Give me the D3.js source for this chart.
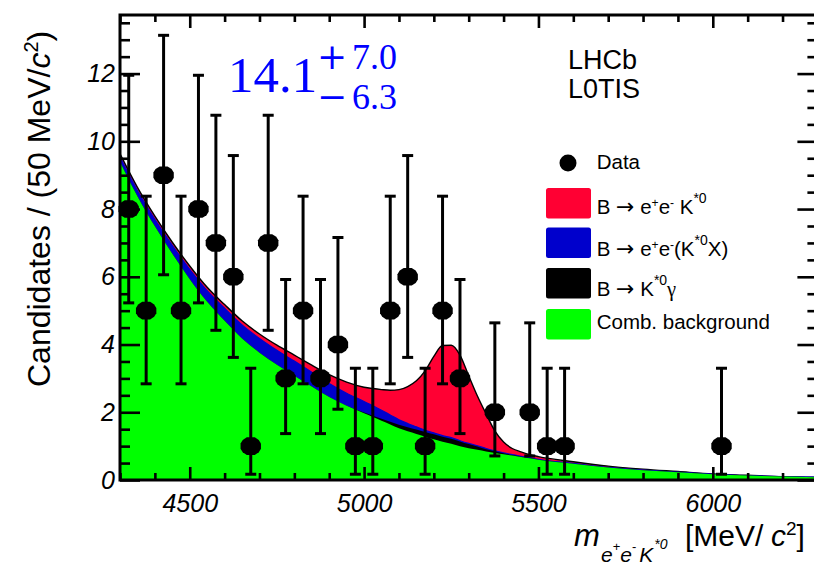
<!DOCTYPE html>
<html>
<head>
<meta charset="utf-8">
<script src="https://cdn.jsdelivr.net/npm/d3@7"></script>
<style>
  body { margin: 0; background: #fff; }
  svg { display: block; }
  text { font-family: "Liberation Sans", Arial, Helvetica, sans-serif; }
</style>
</head>
<body>
<svg id="chart" width="814" height="565"></svg>
<script>
// Fit components, evaluated on a mass grid [MeV/c^2]
const massGrid = [4300, 4350, 4400, 4450, 4500, 4550, 4600, 4650, 4700, 4750, 4800, 4850, 4900, 4950,
  5000, 5025, 5050, 5075, 5100, 5125, 5150, 5175, 5200, 5225, 5250, 5275, 5300, 5325, 5350, 5375,
  5400, 5425, 5450, 5475, 5500, 5600, 5700, 5800, 5900, 6000, 6100, 6200, 6300];

// Combinatorial background
const combBkg = [9.40, 8.38, 7.49, 6.68, 5.93, 5.26, 4.70, 4.18, 3.76, 3.40, 3.08, 2.76, 2.45, 2.19,
  1.97, 1.86, 1.75, 1.64, 1.53, 1.44, 1.36, 1.28, 1.20, 1.13, 1.07, 1.00, 0.94, 0.89, 0.84, 0.80,
  0.76, 0.72, 0.68, 0.64, 0.60, 0.48, 0.37, 0.29, 0.23, 0.17, 0.13, 0.10, 0.08];

// B -> K*0 gamma
const kstGamma = [0, 0, 0, 0, 0, 0, 0, 0, 0, 0, 0, 0, 0, 0,
  0.02, 0.04, 0.06, 0.08, 0.10, 0.12, 0.13, 0.14, 0.15, 0.15, 0.15, 0.14, 0.12, 0.10, 0.07, 0.05,
  0.03, 0.02, 0.01, 0.01, 0, 0, 0, 0, 0, 0, 0, 0, 0];

// B -> e+e-(K*0 X), partially reconstructed
const partReco = [0.14, 0.17, 0.21, 0.25, 0.29, 0.33, 0.37, 0.40, 0.42, 0.43, 0.43, 0.42, 0.40, 0.37,
  0.33, 0.29, 0.25, 0.20, 0.15, 0.11, 0.08, 0.05, 0.04, 0.03, 0.03, 0.02, 0.02, 0.02, 0.02, 0.01,
  0.01, 0.01, 0.01, 0.01, 0.01, 0.01, 0, 0, 0, 0, 0, 0, 0];

// B -> e+e- K*0 signal
const signal = [0.09, 0.09, 0.09, 0.09, 0.10, 0.10, 0.11, 0.12, 0.13, 0.15, 0.18, 0.21, 0.26, 0.33,
  0.42, 0.51, 0.61, 0.73, 0.89, 1.09, 1.36, 1.75, 2.26, 2.66, 2.73, 2.53, 2.00, 1.47, 1.02, 0.59,
  0.32, 0.18, 0.13, 0.09, 0.08, 0.05, 0.04, 0.03, 0.02, 0.01, 0.01, 0, 0];

// Data: bin centres (50 MeV bins), candidates, asymmetric errors
const binCentres = [4325, 4375, 4425, 4475, 4525, 4575, 4625, 4675, 4725, 4775, 4825, 4875, 4925,
  4975, 5025, 5075, 5125, 5175, 5225, 5275, 5375, 5475, 5525, 5575, 6025];
const counts = [8, 5, 9, 5, 8, 7, 6, 1, 7, 3, 5, 3, 4, 1, 1, 5, 6, 1, 5, 3, 2, 2, 1, 1, 1];
const errLow = [2.77, 2.16, 2.94, 2.16, 2.77, 2.58, 2.38, 0.83, 2.58, 1.63, 2.16, 1.63, 1.91,
  0.83, 0.83, 2.16, 2.38, 0.83, 2.16, 1.63, 1.29, 1.29, 0.83, 0.83, 0.83];
const errHigh = [3.95, 3.38, 4.13, 3.38, 3.95, 3.77, 3.58, 2.30, 3.77, 2.92, 3.38, 2.92, 3.16,
  2.30, 2.30, 3.38, 3.58, 2.30, 3.38, 2.92, 2.64, 2.64, 2.30, 2.30, 2.30];

const xTickValues = [4500, 5000, 5500, 6000];
const yTickValues = [0, 2, 4, 6, 8, 10, 12];

const fillColours = { sig: "#ff0033", part: "#0000cc", kst: "#000000", comb: "#00ff00" };
const SERIF = '"Liberation Serif", "Times New Roman", serif';
const SYMBOL = '"DejaVu Serif", "DejaVu Sans", serif';

const svg = d3.select("#chart");
const x = d3.scaleLinear().domain([4300, 6300]).range([120, 817.4]);
const y = d3.scaleLinear().domain([0, 13.73]).range([480, 15]);

svg.append("defs").append("clipPath").attr("id", "plotArea")
  .append("rect").attr("x", x.range()[0]).attr("y", y.range()[1])
  .attr("width", x.range()[1] - x.range()[0]).attr("height", y.range()[0] - y.range()[1]);

// Stacked fit components
const rows = massGrid.map((m, i) => ({ m, comb: combBkg[i], kst: kstGamma[i], part: partReco[i], sig: signal[i] }));
const stacked = d3.stack().keys(["comb", "kst", "part", "sig"])(rows);
const byKey = {};
stacked.forEach(s => { byKey[s.key] = s; });

const area = d3.area()
  .x(d => x(d.data.m)).y0(y(0)).y1(d => y(d[1]))
  .curve(d3.curveMonotoneX);
const topLine = d3.line()
  .x(d => x(d.data.m)).y(d => y(d[1]))
  .curve(d3.curveMonotoneX);

const plot = svg.append("g").attr("clip-path", "url(#plotArea)");
["sig", "part", "kst", "comb"].forEach(k => {
  plot.append("path").datum(byKey[k]).attr("d", area).attr("fill", fillColours[k]);
  if (k === "sig") {
    plot.append("path").datum(byKey[k]).attr("d", topLine)
      .attr("fill", "none").attr("stroke", "#000").attr("stroke-width", 1.4);
  }
  if (k === "part") {
    plot.append("path").datum(byKey[k]).attr("d", topLine)
      .attr("fill", "none").attr("stroke", fillColours.part).attr("stroke-width", 1.2);
  }
});

// Axes: inward ticks on all four sides
const tickStroke = 2.6;
function styleAxis(g) {
  g.select(".domain").remove();
  g.selectAll(".tick line").attr("stroke", "#000").attr("stroke-width", tickStroke);
}
const xMinor = d3.range(4300, 6301, 100).filter(v => v % 500 !== 0);
const yMinor = d3.range(0.5, 13.7, 0.5).filter(v => v % 2 !== 0);

svg.append("g").attr("transform", `translate(0,${y(0)})`)
  .call(d3.axisBottom(x).tickValues(xMinor).tickSize(-7).tickFormat(""))
  .call(styleAxis);
const xAxis = svg.append("g").attr("transform", `translate(0,${y(0)})`)
  .call(d3.axisBottom(x).tickValues(xTickValues).tickSize(-13).tickPadding(14).tickFormat(d3.format("d")))
  .call(styleAxis);
xAxis.selectAll(".tick text").attr("font-size", 25).attr("font-style", "italic")
  .attr("fill", "#000").attr("font-family", '"Liberation Sans", Arial, sans-serif');

svg.append("g").attr("transform", `translate(0,${y.range()[1]})`)
  .call(d3.axisTop(x).tickValues(xMinor).tickSize(-7).tickFormat(""))
  .call(styleAxis);
svg.append("g").attr("transform", `translate(0,${y.range()[1]})`)
  .call(d3.axisTop(x).tickValues(xTickValues).tickSize(-13).tickFormat(""))
  .call(styleAxis);

svg.append("g").attr("transform", `translate(${x.range()[0]},0)`)
  .call(d3.axisLeft(y).tickValues(yMinor).tickSize(-10).tickFormat(""))
  .call(styleAxis);
const yAxis = svg.append("g").attr("transform", `translate(${x.range()[0]},0)`)
  .call(d3.axisLeft(y).tickValues(yTickValues).tickSize(-20).tickPadding(5).tickFormat(d3.format("d")))
  .call(styleAxis);
yAxis.selectAll(".tick text").attr("font-size", 25).attr("font-style", "italic")
  .attr("fill", "#000").attr("font-family", '"Liberation Sans", Arial, sans-serif');

svg.append("g").attr("transform", `translate(${x.range()[1]},0)`)
  .call(d3.axisRight(y).tickValues(yMinor).tickSize(-10).tickFormat(""))
  .call(styleAxis);
svg.append("g").attr("transform", `translate(${x.range()[1]},0)`)
  .call(d3.axisRight(y).tickValues(yTickValues).tickSize(-20).tickFormat(""))
  .call(styleAxis);

// Frame
svg.append("rect")
  .attr("x", x.range()[0]).attr("y", y.range()[1])
  .attr("width", x.range()[1] - x.range()[0]).attr("height", y.range()[0] - y.range()[1])
  .attr("fill", "none").attr("stroke", "#000").attr("stroke-width", 3);

// Data points with asymmetric error bars
const markerPath = "M-4,-8.8L4,-8.8L8,-6.2L10.2,-2.6L10.2,2.6L8,6.2L4,8.8L-4,8.8L-8,6.2L-10.2,2.6L-10.2,-2.6L-8,-6.2Z";
const pts = binCentres.map((m, i) => ({ m, n: counts[i], lo: counts[i] - errLow[i], hi: counts[i] + errHigh[i] }));
const dataG = svg.append("g");
const pg = dataG.selectAll("g.pt").data(pts).join("g").attr("class", "pt");
pg.append("line")
  .attr("x1", d => x(d.m)).attr("x2", d => x(d.m))
  .attr("y1", d => y(d.lo)).attr("y2", d => y(d.hi))
  .attr("stroke", "#000").attr("stroke-width", 3);
pg.append("line")
  .attr("x1", d => x(d.m) - 5.5).attr("x2", d => x(d.m) + 5.5)
  .attr("y1", d => y(d.hi)).attr("y2", d => y(d.hi))
  .attr("stroke", "#000").attr("stroke-width", 3);
pg.append("line")
  .attr("x1", d => x(d.m) - 5.5).attr("x2", d => x(d.m) + 5.5)
  .attr("y1", d => y(d.lo)).attr("y2", d => y(d.lo))
  .attr("stroke", "#000").attr("stroke-width", 3);
pg.append("path").attr("d", markerPath)
  .attr("transform", d => `translate(${x(d.m)},${y(d.n)})`)
  .attr("fill", "#000");

// Axis titles
const yTitle = svg.append("text")
  .attr("transform", "rotate(-90)")
  .attr("x", -387).attr("y", 50)
  .attr("font-size", 32).attr("fill", "#000");
yTitle.append("tspan").text("Candidates / (50 MeV/");
yTitle.append("tspan").attr("font-style", "italic").text("c");
yTitle.append("tspan").attr("font-size", 20).attr("dy", -12).text("2");
yTitle.append("tspan").attr("dy", 12).text(")");

const xTitle = svg.append("text").attr("fill", "#000");
xTitle.append("tspan").attr("x", 574).attr("y", 546).attr("font-size", 31).attr("font-style", "italic").text("m");
xTitle.append("tspan").attr("x", 601).attr("y", 561.5).attr("font-size", 21).attr("font-style", "italic").text("e");
xTitle.append("tspan").attr("y", 551).attr("font-size", 13).text("+");
xTitle.append("tspan").attr("y", 561.5).attr("font-size", 21).attr("font-style", "italic").text("e");
xTitle.append("tspan").attr("y", 551).attr("font-size", 13).text("-");
xTitle.append("tspan").attr("y", 561.5).attr("font-size", 21).attr("font-style", "italic").attr("dx", 3).text("K");
xTitle.append("tspan").attr("y", 549).attr("font-size", 14).attr("font-style", "italic").attr("dx", 1).text("*0");
xTitle.append("tspan").attr("x", 685).attr("y", 546).attr("font-size", 30).text("[MeV/");
xTitle.append("tspan").attr("x", 771).attr("y", 546).attr("font-size", 30).attr("font-style", "italic").text("c");
xTitle.append("tspan").attr("y", 535).attr("font-size", 19).text("2");
xTitle.append("tspan").attr("y", 546).attr("font-size", 30).text("]");

// Signal yield with asymmetric uncertainties, set as one text run
const yieldText = svg.append("text").attr("fill", "#0000ff").style("font-family", SERIF);
yieldText.append("tspan").attr("x", 228).attr("y", 91.7).attr("font-size", 51).text("14.1");
yieldText.append("tspan").attr("x", 317).attr("y", 69).attr("font-size", 36).style("font-family", SYMBOL).text("+");
yieldText.append("tspan").attr("x", 352).attr("y", 69).attr("font-size", 36).text("7.0");
yieldText.append("tspan").attr("x", 317).attr("y", 109).attr("font-size", 36).style("font-family", SYMBOL).text("\u2212");
yieldText.append("tspan").attr("x", 352).attr("y", 109).attr("font-size", 36).text("6.3");

// Experiment / trigger labels
svg.append("text").attr("x", 568).attr("y", 69.3).attr("font-size", 27).attr("fill", "#000").text("LHCb");
svg.append("text").attr("x", 568).attr("y", 98.3).attr("font-size", 27).attr("fill", "#000").text("L0TIS");

// Legend
const legend = svg.append("g").attr("font-size", 20.5).attr("fill", "#000");
legend.append("circle").attr("cx", 568).attr("cy", 163).attr("r", 8.5).attr("fill", "#000");
legend.append("text").attr("x", 596.7).attr("y", 169).text("Data");

const legendBoxes = [
  { key: "sig", top: 188 },
  { key: "part", top: 227.5 },
  { key: "kst", top: 268 },
  { key: "comb", top: 309 }
];
legend.selectAll("rect.box").data(legendBoxes).join("rect").attr("class", "box")
  .attr("x", 546).attr("y", d => d.top).attr("width", 45).attr("height", 30.5)
  .attr("rx", 2.5).attr("fill", d => fillColours[d.key]);

function arrowStart(t) {
  t.append("tspan").text("B ");
  t.append("tspan").style("font-family", '"DejaVu Sans", sans-serif').attr("font-size", 22).text("\u2192");
}
// B -> e+e- K*0
const l1 = legend.append("text").attr("x", 596.7).attr("y", 214);
arrowStart(l1);
l1.append("tspan").text(" e");
l1.append("tspan").attr("font-size", 12).attr("dy", -7).text("+");
l1.append("tspan").attr("dy", 7).text("e");
l1.append("tspan").attr("font-size", 12).attr("dy", -7).text("-");
l1.append("tspan").attr("dy", 7).text(" K");
l1.append("tspan").attr("font-size", 14).attr("dy", -11).text("*0");

// B -> e+e-(K*0 X)
const l2 = legend.append("text").attr("x", 596.7).attr("y", 255.7);
arrowStart(l2);
l2.append("tspan").text(" e");
l2.append("tspan").attr("font-size", 12).attr("dy", -7).text("+");
l2.append("tspan").attr("dy", 7).text("e");
l2.append("tspan").attr("font-size", 12).attr("dy", -7).text("-");
l2.append("tspan").attr("dy", 7).text("(K");
l2.append("tspan").attr("font-size", 14).attr("dy", -11).text("*0");
l2.append("tspan").attr("dy", 11).text("X)");

// B -> K*0 gamma
const l3 = legend.append("text").attr("x", 596.7).attr("y", 295.7);
arrowStart(l3);
l3.append("tspan").text(" K");
l3.append("tspan").attr("font-size", 14).attr("dy", -11).text("*0");
l3.append("tspan").attr("dy", 11).style("font-family", SERIF).text("\u03b3");

legend.append("text").attr("x", 596.7).attr("y", 329).text("Comb. background");
</script>
</body>
</html>
